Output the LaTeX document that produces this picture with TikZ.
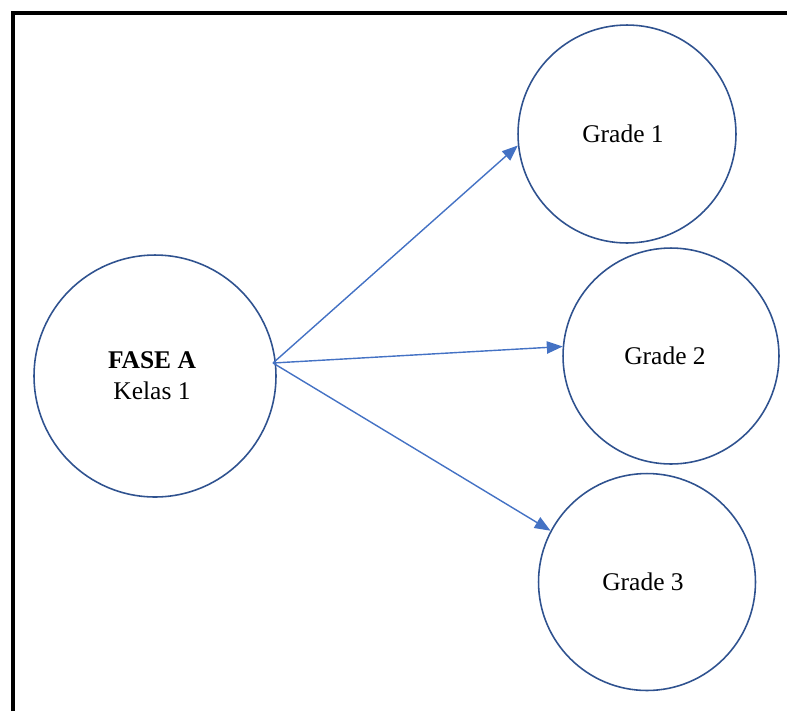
\documentclass[tikz,border=0pt]{standalone}
\usepackage{fontspec}
\setmainfont{Liberation Serif}
\usepackage{xcolor}
\usetikzlibrary{arrows.meta,positioning}
\definecolor{ringblue}{HTML}{2F528F}
\definecolor{linkblue}{HTML}{4472C4}
\tikzset{
    bubble/.style={circle, draw=ringblue, line width=0.9pt, inner sep=0pt},
    tag/.style={align=center, font=\fontsize{14.5}{17.5}\selectfont},
    link/.style={draw=linkblue, line width=0.8pt, -{Triangle[length=9pt,width=7pt]}}
}

\begin{document}
\begin{tikzpicture}[x=0.02cm,y=-0.02cm]
    \useasboundingbox (0,0) rectangle (787,711);
    % Frame
    \draw [line width=1.8pt] (13,711) -- (13,13) -- (787,13);
    % Phase
    \node [bubble, minimum size=4.84cm,
        label={[tag, xshift=-0.06cm]center:{\textbf{FASE A}\\Kelas 1}}] (fase) at (155,376) {};
    % Grades
    \node [bubble, minimum size=4.36cm, label={[tag, xshift=-0.08cm]center:Grade 1}] (g1) at (627,134) {};
    \node [bubble, minimum size=4.32cm, label={[tag, xshift=-0.12cm]center:Grade 2}] (g2) at (671,356) {};
    \node [bubble, minimum size=4.34cm, label={[tag, xshift=-0.08cm]center:Grade 3}] (g3) at (647,582) {};
    % Arrows
    \coordinate (src) at (273,363);
    \draw [link] (src) -- (g1.186);
    \draw [link] (src) -- (g2.175);
    \draw [link] (src) -- (g3.152);
\end{tikzpicture}
\end{document}
